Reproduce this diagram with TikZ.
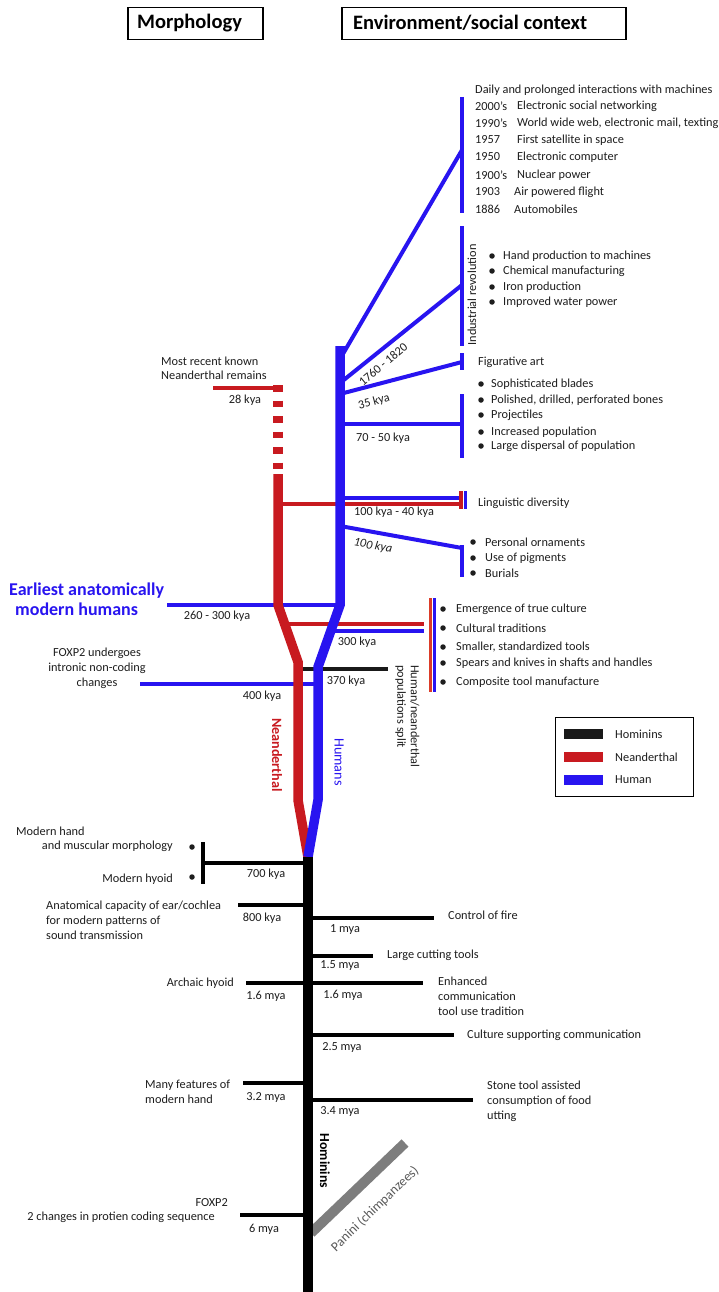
\documentclass[tikz,border=0pt]{standalone}
\usepackage{fontspec}
\setmainfont{Carlito}
\definecolor{hblue}{RGB}{40,20,240}
\definecolor{hred}{RGB}{200,26,32}
\definecolor{hred2}{RGB}{220,60,40}
\definecolor{hgray}{RGB}{125,125,125}
\definecolor{tgray}{RGB}{30,30,30}
\begin{document}
\begin{tikzpicture}[x=1pt,y=-1pt,
  txt/.style={font=\fontsize{12.3}{15}\selectfont, text=tgray, inner sep=0pt},
  lft/.style={txt, anchor=west, align=left},
  rgt/.style={txt, anchor=east, align=right},
  ctr/.style={txt, anchor=center, align=center},
  hdr/.style={font=\fontsize{20.5}{24}\selectfont\bfseries, text=black, inner sep=0pt, anchor=west},
  hbox/.style={draw=black, line width=1.5pt},
  bl/.style={draw=hblue, line width=4},
  rd/.style={draw=hred, line width=4},
  bk/.style={draw=black, line width=4},
  trunk/.style={line width=9.5, line join=miter},
  bul/.style={circle, fill=tgray, inner sep=0pt, minimum size=5.5pt},
  legbar/.style={minimum width=39pt, minimum height=10pt, inner sep=0pt}
]
\useasboundingbox[fill=white] (0,0) rectangle (718,1292);

% headers
\node[hbox, minimum width=135pt, minimum height=32pt, anchor=north west] (hm) at (127,7) {};
\node[hdr] (hmt) at (137,23) {Morphology};
\node[hbox, minimum width=284pt, minimum height=32pt, anchor=north west] (he) at (341,7) {};
\node[hdr] (het) at (353,23) {Environment/social context};

% ---------- coordinates of trunks
\coordinate (bt0) at (340,346);
\coordinate (bt1) at (340,605);
\coordinate (bt2) at (318,667);
\coordinate (bt3) at (318,800);
\coordinate (root) at (308,857);
\coordinate (rt0) at (278,474);
\coordinate (rt1) at (278,605);
\coordinate (rt2) at (298,662);
\coordinate (rt3) at (298,800);
\coordinate (bb) at (308,1292);

% ---------- blue branches (upper)
\coordinate (a1) at (340,359); \coordinate (a1e) at (462,150);
\coordinate (k1a) at (462,97); \coordinate (k1b) at (462,213);
\draw[bl] (a1) -- (a1e);
\draw[bl] (k1a) -- (k1b);

\coordinate (a2) at (340,383); \coordinate (a2e) at (462,285);
\coordinate (k2a) at (462,226); \coordinate (k2b) at (462,346);
\draw[bl] (a2) -- (a2e);
\draw[bl] (k2a) -- (k2b);

\coordinate (a3) at (340,394); \coordinate (a3e) at (462,362);
\coordinate (k3a) at (462,353); \coordinate (k3b) at (462,370);
\draw[bl] (a3) -- (a3e);
\draw[bl] (k3a) -- (k3b);

\coordinate (a4) at (340,424); \coordinate (a4e) at (462,424);
\coordinate (k4a) at (462,394); \coordinate (k4b) at (462,458);
\draw[bl] (a4) -- (a4e);
\draw[bl] (k4a) -- (k4b);

\coordinate (a5) at (340,498); \coordinate (a5e) at (463,498);
\draw[bl] (a5) -- (a5e);
\coordinate (r5) at (278,504); \coordinate (r5e) at (461,504);
\draw[rd] (r5) -- (r5e);
\coordinate (k5a) at (461,491); \coordinate (k5b) at (461,509);
\coordinate (k5c) at (465.5,491); \coordinate (k5d) at (465.5,509);
\draw[rd] (k5a) -- (k5b);
\draw[draw=hblue, line width=3] (k5c) -- (k5d);

\coordinate (a6) at (340,526); \coordinate (a6e) at (462,548);
\coordinate (k6a) at (462,545); \coordinate (k6b) at (462,577);
\draw[bl] (a6) -- (a6e);
\draw[bl] (k6a) -- (k6b);

% earliest AMH
\coordinate (e1) at (167,605);
\draw[bl] (e1) -- (bt1);

% 300 kya
\coordinate (r7) at (285,624); \coordinate (r7e) at (424,624);
\coordinate (b7) at (330,631); \coordinate (b7e) at (424,631);
\draw[rd] (r7) -- (r7e);
\draw[bl] (b7) -- (b7e);
\coordinate (k7a) at (430,598); \coordinate (k7b) at (430,692);
\coordinate (k7c) at (434.5,598); \coordinate (k7d) at (434.5,692);
\draw[draw=hred2, line width=3] (k7a) -- (k7b);
\draw[draw=hblue, line width=3] (k7c) -- (k7d);

% 370 kya split
\coordinate (s1) at (298,669); \coordinate (s1e) at (388,669);
\draw[draw=black!90, line width=4] (s1) -- (s1e);

% 400 kya
\coordinate (f1) at (140,684); \coordinate (f1e) at (318,684);
\draw[bl] (f1) -- (f1e);

% Neanderthal remains
\coordinate (n1) at (213,388); \coordinate (n1e) at (278,388);
\draw[rd] (n1) -- (n1e);
\coordinate (nd0) at (278,385); \coordinate (nd1) at (278,473);
\draw[draw=hred, line width=9.5, dash pattern=on 6.5pt off 9pt] (nd0) -- (nd1);

% ---------- trunks
\draw[trunk, draw=hred] (rt0) -- (rt1) -- (rt2) -- (rt3) -- (root);
\draw[trunk, draw=hblue] (bt0) -- (bt1) -- (bt2) -- (bt3) -- (root);

% ---------- black branches
\coordinate (c1) at (203,863); \coordinate (c1e) at (308,863);
\coordinate (c1a) at (203,842); \coordinate (c1b) at (203,884);
\draw[bk] (c1) -- (c1e);
\draw[bk] (c1a) -- (c1b);
\coordinate (c2) at (238,905); \coordinate (c2e) at (308,905);
\draw[bk] (c2) -- (c2e);
\coordinate (c3) at (308,918); \coordinate (c3e) at (434,918);
\draw[bk] (c3) -- (c3e);
\coordinate (c4) at (308,956); \coordinate (c4e) at (373,956);
\draw[bk] (c4) -- (c4e);
\coordinate (c5) at (246,983); \coordinate (c5m) at (308,983); \coordinate (c5e) at (423,983);
\draw[bk] (c5) -- (c5m);
\draw[bk] (c5m) -- (c5e);
\coordinate (c6) at (308,1035); \coordinate (c6e) at (454,1035);
\draw[bk] (c6) -- (c6e);
\coordinate (c7) at (243,1083); \coordinate (c7e) at (308,1083);
\draw[bk] (c7) -- (c7e);
\coordinate (c8) at (308,1100); \coordinate (c8e) at (473,1100);
\draw[bk] (c8) -- (c8e);
\coordinate (c9) at (240,1215); \coordinate (c9e) at (308,1215);
\draw[bk] (c9) -- (c9e);

% panini
\coordinate (p0) at (311,1233); \coordinate (p1) at (405,1143);
\draw[draw=hgray, line width=10] (p0) -- (p1);

% black trunk
\draw[trunk, draw=black] (root) -- (bb);

% ---------- texts: top list
\node[lft] (t0) at (475,90) {Daily and prolonged interactions with machines};
\node[lft] (y1) at (475,106) {2000’s}; \node[lft] (d1) at (517,106) {Electronic social networking};
\node[lft] (y2) at (475,123) {1990’s}; \node[lft] (d2) at (517,123) {World wide web, electronic mail, texting};
\node[lft] (y3) at (475,140) {1957};   \node[lft] (d3) at (517,140) {First satellite in space};
\node[lft] (y4) at (475,157) {1950};   \node[lft] (d4) at (517,157) {Electronic computer};
\node[lft] (y5) at (475,175) {1900’s}; \node[lft] (d5) at (517,175) {Nuclear power};
\node[lft] (y6) at (475,192) {1903};   \node[lft] (d6) at (514,192) {Air powered flight};
\node[lft] (y7) at (475,209) {1886};   \node[lft] (d7) at (514,209) {Automobiles};

% industrial revolution
\node[txt, rotate=90] (ir) at (472,295) {Industrial revolution};
\node[bul] (ib1) at (492,256) {}; \node[lft] (it1) at (503,256) {Hand production to machines};
\node[bul] (ib2) at (492,271) {}; \node[lft] (it2) at (503,271) {Chemical manufacturing};
\node[bul] (ib3) at (492,287) {}; \node[lft] (it3) at (503,287) {Iron production};
\node[bul] (ib4) at (492,302) {}; \node[lft] (it4) at (503,302) {Improved water power};
\node[txt, rotate=40] (l1760) at (383,364) {1760 - 1820};

\node[lft] (fig) at (478,362) {Figurative art};
\node[txt, rotate=15] (l35) at (374,402) {35 kya};

\node[bul] (sb1) at (481,384) {}; \node[lft] (st1) at (491,384) {Sophisticated blades};
\node[bul] (sb2) at (481,400) {}; \node[lft] (st2) at (491,400) {Polished, drilled, perforated bones};
\node[bul] (sb3) at (481,415) {}; \node[lft] (st3) at (491,415) {Projectiles};
\node[bul] (sb4) at (481,432) {}; \node[lft] (st4) at (491,432) {Increased population};
\node[bul] (sb5) at (481,446) {}; \node[lft] (st5) at (491,446) {Large dispersal of population};
\node[ctr] (l7050) at (383,438) {70 - 50 kya};

\node[lft] (ling) at (478,503) {Linguistic diversity};
\node[ctr] (l10040) at (394,512) {100 kya - 40 kya};

\node[txt, rotate=-10, font=\fontsize{12.3}{15}\selectfont\itshape] (l100) at (373,546) {100 kya};
\node[bul] (pb1) at (473,542) {}; \node[lft] (pt1) at (485,542) {Personal ornaments};
\node[bul] (pb2) at (473,558) {}; \node[lft] (pt2) at (485,558) {Use of pigments};
\node[bul] (pb3) at (473,573) {}; \node[lft] (pt3) at (485,573) {Burials};

% neanderthal remains
\node[lft, font=\fontsize{12.3}{13.5}\selectfont] (nr) at (161,368.5) {Most recent known\\Neanderthal remains};
\node[ctr] (l28) at (245,400) {28 kya};

% earliest AMH
\node[font=\fontsize{18}{20}\selectfont\bfseries, text=hblue, inner sep=0pt, anchor=west, align=left] (amh) at (9,599) {Earliest anatomically\\\hspace{6pt}modern humans};
\node[ctr] (l260) at (217,616) {260 - 300 kya};
\node[ctr] (l300) at (357,642) {300 kya};

\node[bul] (cb1) at (443,609) {}; \node[lft] (ct1) at (456,609) {Emergence of true culture};
\node[bul] (cb2) at (443,628) {}; \node[lft] (ct2) at (456,628) {Cultural traditions};
\node[bul] (cb3) at (443,647) {}; \node[lft] (ct3) at (456,647) {Smaller, standardized tools};
\node[bul] (cb4) at (443,663) {}; \node[lft] (ct4) at (456,663) {Spears and knives in shafts and handles};
\node[bul] (cb5) at (443,682) {}; \node[lft] (ct5) at (456,682) {Composite tool manufacture};

\node[ctr] (fox) at (97,668) {FOXP2 undergoes\\intronic non-coding\\changes};
\node[ctr] (l400) at (262,696) {400 kya};
\node[ctr] (l370) at (346,681) {370 kya};
\node[txt, font=\fontsize{12.3}{13.5}\selectfont, rotate=-90, anchor=north west, align=left] (split) at (419.5,665) {Human/neanderthal\\populations split};

\node[font=\fontsize{14.2}{16}\selectfont\bfseries, text=hred, inner sep=0pt, rotate=-90] (nean) at (277,755) {Neanderthal};
\node[font=\fontsize{14.2}{16}\selectfont, text=hblue, inner sep=0pt, rotate=-90] (hum) at (339,762) {Humans};

% legend
\node[draw=black, line width=1.2pt, minimum width=138pt, minimum height=79pt, anchor=north west, inner sep=0pt] (leg) at (555,717) {};
\node[legbar, fill=black!90] (lg1) at (583.5,734) {}; \node[lft] (lt1) at (615,734) {Hominins};
\node[legbar, fill=hred] (lg2) at (583.5,757) {}; \node[lft] (lt2) at (615,757) {Neanderthal};
\node[legbar, fill=hblue] (lg3) at (583.5,780) {}; \node[lft] (lt3) at (615,780) {Human};

% lower morphology
\node[lft] (mh1) at (16,831) {Modern hand};
\node[rgt] (mh2) at (173,846) {and muscular morphology};
\node[rgt] (mh3) at (173,879) {Modern hyoid};
\node[bul] (mb1) at (192,847) {};
\node[bul] (mb2) at (192,877) {};
\node[ctr] (l700) at (266,874) {700 kya};

\node[lft] (ear) at (46,920) {Anatomical capacity of ear/cochlea\\for modern patterns of\\sound transmission};
\node[ctr] (l800) at (262,918) {800 kya};

\node[lft] (fire) at (448,915) {Control of fire};
\node[ctr] (l1) at (345,930) {1 mya};
\node[lft] (lct) at (387,955) {Large cutting tools};
\node[ctr] (l15) at (340,966) {1.5 mya};

\node[rgt] (ah) at (234,983) {Archaic hyoid};
\node[ctr] (l16a) at (266,996) {1.6 mya};
\node[ctr] (l16b) at (343,995) {1.6 mya};
\node[lft] (enh) at (438,996) {Enhanced\\communication\\tool use tradition};

\node[lft] (csc) at (467,1035) {Culture supporting communication};
\node[ctr] (l25) at (342,1047) {2.5 mya};

\node[lft] (mfh) at (145,1091.5) {Many features of\\modern hand};
\node[ctr] (l32) at (266,1097) {3.2 mya};
\node[lft] (stone) at (487,1101.5) {Stone tool assisted\\consumption of food\\utting};
\node[ctr] (l34) at (340,1111) {3.4 mya};

\node[font=\fontsize{13.8}{16}\selectfont\bfseries, text=black, inner sep=0pt, rotate=-90] (homt) at (325,1161) {Hominins};
\node[font=\fontsize{13.5}{16}\selectfont, text=black!65, inner sep=0pt, rotate=44] (pan) at (375,1209) {Panini (chimpanzees)};

\node[rgt] (fx2) at (228,1203) {FOXP2};
\node[rgt] (fx2b) at (215,1217) {2 changes in protien coding sequence};
\node[ctr] (l6) at (264,1229) {6 mya};

\end{tikzpicture}
\end{document}
